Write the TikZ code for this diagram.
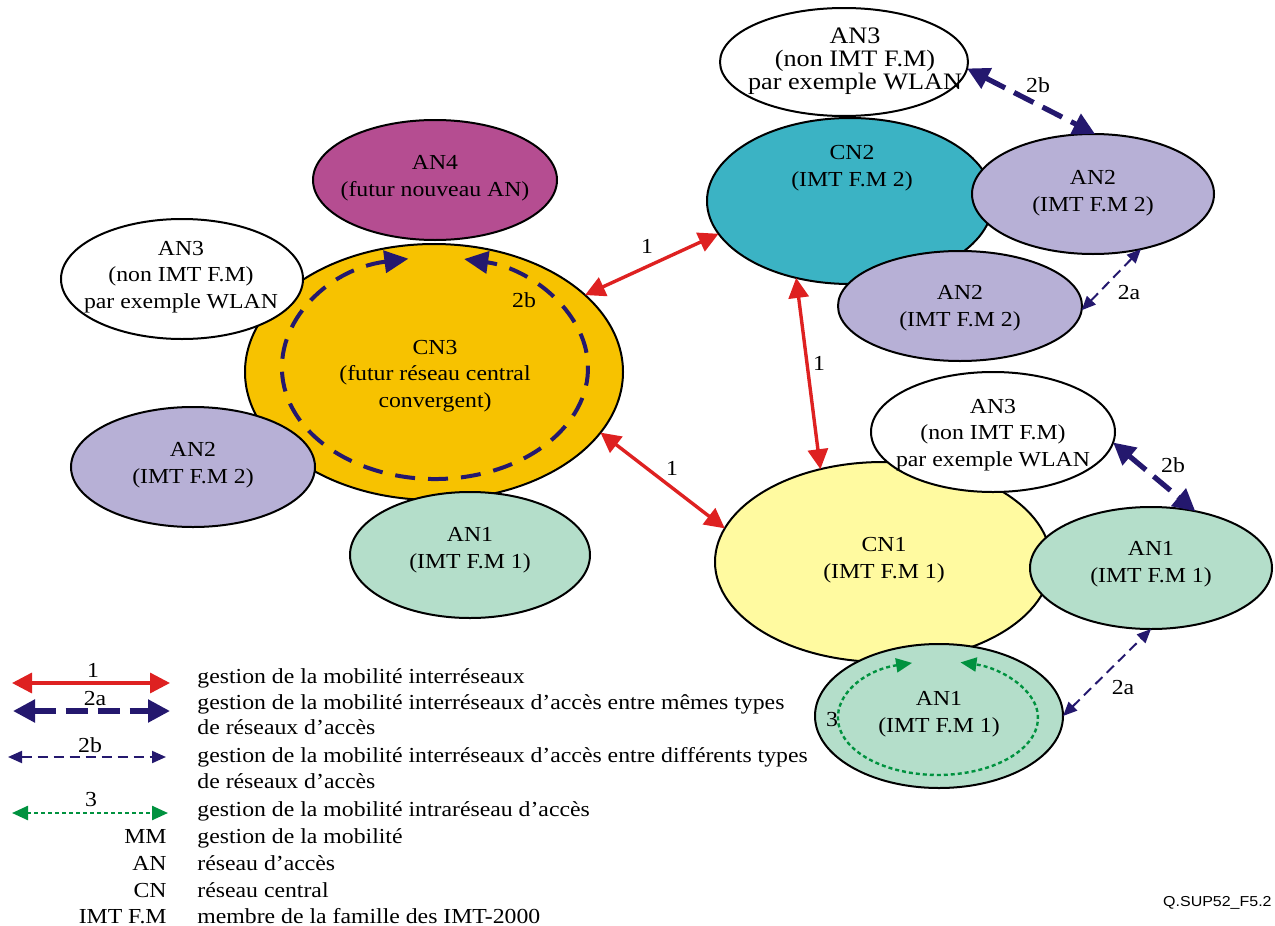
\documentclass[tikz,border=0pt]{standalone}
\usepackage{fontspec}
\setmainfont{Liberation Serif}[FakeStretch=1.11]
\newfontfamily\tagfont{Liberation Sans}[FakeStretch=1.11]
\usetikzlibrary{shapes.geometric,arrows.meta}

\definecolor{cnthree}{RGB}{247,194,0}
\definecolor{cntwo}{RGB}{59,179,196}
\definecolor{cnone}{RGB}{255,250,160}
\definecolor{anfour}{RGB}{181,77,145}
\definecolor{antwo}{RGB}{183,176,214}
\definecolor{anone}{RGB}{180,222,202}
\definecolor{mmred}{RGB}{222,33,33}
\definecolor{mmnavy}{RGB}{36,24,110}
\definecolor{mmgreen}{RGB}{0,146,63}

\begin{document}
\begin{tikzpicture}[x=0.5pt,y=-0.5pt,
  net/.style={ellipse, draw=black, line width=1pt, inner sep=0pt, outer sep=0pt},
  txt/.style={font=\fontsize{10.7}{13.3}\selectfont, align=center, inner sep=0pt},
  lbl/.style={font=\fontsize{10.7}{13.3}\selectfont, inner sep=0pt},
  lgd/.style={font=\fontsize{10.7}{13.3}\selectfont, inner sep=0pt, anchor=base west},
  abbr/.style={font=\fontsize{10.7}{13.3}\selectfont, inner sep=0pt, anchor=base east},
  mmone/.style={draw=mmred, line width=1.7pt,
    {Triangle[length=10pt,width=10pt]}-{Triangle[length=10pt,width=10pt]}},
  mmwide/.style={draw=mmnavy, line width=2.6pt, dash pattern=on 11pt off 5pt,
    {Triangle[length=11pt,width=11pt]}-{Triangle[length=11pt,width=11pt]}},
  mmloop/.style={draw=mmnavy, line width=2pt, dash pattern=on 10pt off 6.5pt,
    {Triangle[length=12pt,width=11pt]}-{Triangle[length=12pt,width=11pt]}},
  mmthin/.style={draw=mmnavy, line width=1pt, dash pattern=on 5pt off 3pt,
    {Triangle[length=7pt,width=6pt]}-{Triangle[length=7pt,width=6pt]}},
  mmintra/.style={draw=mmgreen, line width=1.2pt, dash pattern=on 2pt off 1.5pt,
    {Triangle[length=8pt,width=7pt]}-{Triangle[length=8pt,width=7pt]}},
]
\useasboundingbox (0,0) rectangle (1275,926);

% ---- CN3 cluster ----
\node[net, fill=cnthree, minimum width=189pt, minimum height=128pt] (cn3) at (434,372) {};
\node[net, fill=anfour, minimum width=122pt, minimum height=60pt] (an4) at (435,180) {};
\node[net, fill=white, minimum width=121pt, minimum height=60pt] (an3l) at (182,279) {};
\node[net, fill=antwo, minimum width=122pt, minimum height=60pt] (an2l) at (193,467) {};
\node[net, fill=anone, minimum width=120pt, minimum height=63pt] (an1l) at (470,555) {};

% ---- CN2 cluster ----
\node[net, fill=cntwo, minimum width=143pt, minimum height=83pt] (cn2) at (850,201) {};
\node[net, fill=white, minimum width=124pt, minimum height=54pt] (an3t) at (844,62) {};
\node[net, fill=antwo, minimum width=121pt, minimum height=60pt] (an2r) at (1093,194) {};
\node[net, fill=antwo, minimum width=122pt, minimum height=55pt] (an2b) at (960,306) {};

% ---- CN1 cluster ----
\node[net, fill=cnone, minimum width=168pt, minimum height=100pt] (cn1) at (883,562) {};
\node[net, fill=white, minimum width=122pt, minimum height=60pt] (an3r) at (993,432) {};
\node[net, fill=anone, minimum width=121pt, minimum height=61pt] (an1r) at (1151,568) {};
\node[net, fill=anone, minimum width=124pt, minimum height=72pt] (an1b) at (939,716) {};

% ---- texts ----
\node[txt] (t-an4) at (435,178) {AN4\\(futur nouveau AN)};
\node[txt] (t-an3l) at (181,277) {AN3\\(non IMT F.M)\\par exemple WLAN};
\node[txt] (t-cn3) at (435,376) {CN3\\(futur réseau central\\convergent)};
\node[txt] (t-an2l) at (193,465) {AN2\\(IMT F.M 2)};
\node[txt] (t-an1l) at (470,550) {AN1\\(IMT F.M 1)};
\node[txt] (t-cn2) at (852,168) {CN2\\(IMT F.M 2)};
\node[txt, font=\fontsize{11.8}{11.4}\selectfont] (t-an3t) at (855,61) {AN3\\(non IMT F.M)\\par exemple WLAN};
\node[txt] (t-an2r) at (1093,193) {AN2\\(IMT F.M 2)};
\node[txt] (t-an2b) at (960,308) {AN2\\(IMT F.M 2)};
\node[txt] (t-cn1) at (884,560) {CN1\\(IMT F.M 1)};
\node[txt] (t-an3r) at (993,435) {AN3\\(non IMT F.M)\\par exemple WLAN};
\node[txt] (t-an1r) at (1151,564) {AN1\\(IMT F.M 1)};
\node[txt] (t-an1b) at (939,714) {AN1\\(IMT F.M 1)};

% ---- mobility loops inside networks ----
\draw[mmloop] (408.4,258.7) arc[start angle=-100, end angle=-439, x radius=153, y radius=111];
\node[lbl] (l-cn3) at (524,300) {2b};
\draw[mmintra] (912.1,662.9) arc[start angle=-105, end angle=-437, x radius=100, y radius=57];
\node[lbl] (l-an1b) at (832,720) {3};

% ---- inter-network mobility ----
\draw[mmone] (cn3.27) -- (cn2.194);
\node[lbl] (l-a) at (647,246) {1};
\draw[mmone] (cn3.-20) -- (cn1.168);
\node[lbl] (l-b) at (672,468) {1};
\draw[mmone] (cn2.235) -- (cn1.124);
\node[lbl] (l-c) at (819,363) {1};

\draw[mmwide] (an3t.-3) -- (an2r.88);
\node[lbl] (l-d) at (1038,85) {2b};
\draw[mmthin] (an2b.-2) -- (an2r.-49);
\node[lbl] (l-e) at (1129,293) {2a};
\draw[mmwide] (an3r.-5) -- (an1r.52);
\node[lbl] (l-f) at (1173,465) {2b};
\draw[mmthin] (an1b.east) -- (an1r.south);
\node[lbl] (l-g) at (1123,688) {2a};

% ---- legend ----
\coordinate (k1a) at (12,683);  \coordinate (k1b) at (170,683);
\coordinate (k2a) at (13,711);  \coordinate (k2b) at (170,711);
\coordinate (k3a) at (8,757);   \coordinate (k3b) at (166,757);
\coordinate (k4a) at (12,813);  \coordinate (k4b) at (168,813);
\draw[mmone] (k1a) -- (k1b);
\node[lbl] (k1t) at (93,670) {1};
\draw[mmwide] (k2a) -- (k2b);
\node[lbl] (k2t) at (95,699) {2a};
\draw[mmthin] (k3a) -- (k3b);
\node[lbl] (k3t) at (90,745) {2b};
\draw[mmintra] (k4a) -- (k4b);
\node[lbl] (k4t) at (91,800) {3};

\node[lgd] (d1) at (197,683) {gestion de la mobilité interréseaux};
\node[lgd] (d2) at (197,709) {gestion de la mobilité interréseaux d’accès entre mêmes types};
\node[lgd] (d3) at (197,734) {de réseaux d’accès};
\node[lgd] (d4) at (197,762) {gestion de la mobilité interréseaux d’accès entre différents types};
\node[lgd] (d5) at (197,788) {de réseaux d’accès};
\node[lgd] (d6) at (197,816) {gestion de la mobilité intraréseau d’accès};
\node[lgd] (d7) at (197,843) {gestion de la mobilité};
\node[lgd] (d8) at (197,870) {réseau d’accès};
\node[lgd] (d9) at (197,897) {réseau central};
\node[lgd] (d10) at (197,923) {membre de la famille des IMT-2000};
\node[abbr] (a7) at (167,843) {MM};
\node[abbr] (a8) at (167,870) {AN};
\node[abbr] (a9) at (167,897) {CN};
\node[abbr] (a10) at (167,923) {IMT F.M};

\node[font=\tagfont\fontsize{7.2}{9}\selectfont, inner sep=0pt, anchor=base east] (tag) at (1272,906) {Q.SUP52\_F5.2};
\end{tikzpicture}
\end{document}
